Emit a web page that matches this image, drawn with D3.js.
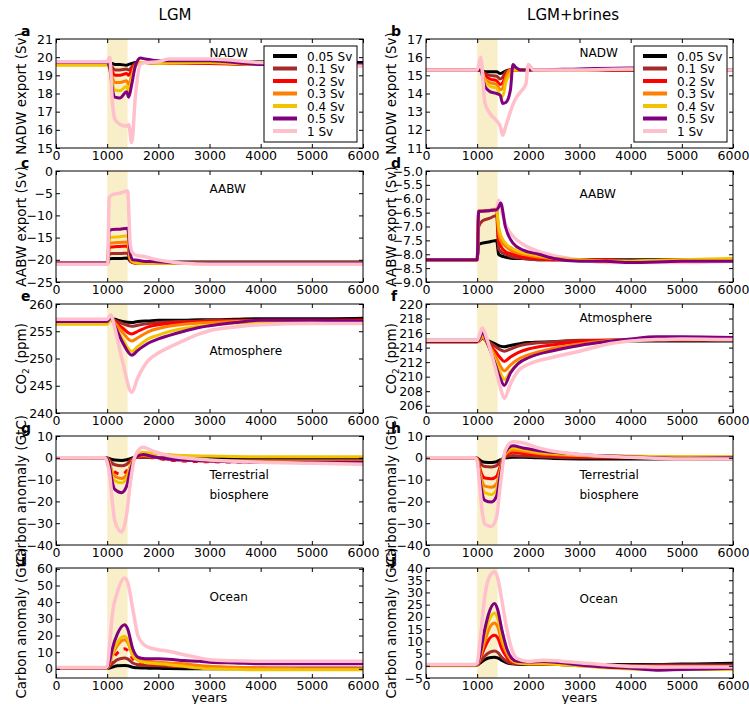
<!DOCTYPE html>
<html>
<head>
<meta charset="utf-8">
<script src="https://cdn.jsdelivr.net/npm/d3@7"></script>
<style>
  body { margin: 0; background: #fff; }
  svg { font-family: "DejaVu Sans", sans-serif; }
</style>
</head>
<body>
<div id="chart"></div>
<script>
// runs (freshwater forcing) and their colours
const runs = ["0.05 Sv", "0.1 Sv", "0.2 Sv", "0.3 Sv", "0.4 Sv", "0.5 Sv", "1 Sv"];
const colors = ["#000000", "#a52a2a", "#ff0000", "#ff7f00", "#f2c300", "#800080", "#ffc0cb"];
const xTicks = [0, 1000, 2000, 3000, 4000, 5000, 6000];

// a: NADW export, LGM
const yearsNadwLGM = [0, 1000, 1050, 1100, 1150, 1250, 1380, 1420, 1480, 1550, 1650, 1750, 2000, 2200, 3000, 4000, 5000, 6000];
const nadwLGM = [
  [19.7, 19.7, 19.7, 19.65, 19.6, 19.6, 19.55, 19.6, 19.65, 19.7, 19.7, 19.7, 19.7, 19.7, 19.7, 19.75, 19.7, 19.7],
  [19.65, 19.65, 19.6, 19.45, 19.3, 19.3, 19.35, 19.3, 19.45, 19.65, 19.7, 19.7, 19.65, 19.65, 19.65, 19.6, 19.6, 19.6],
  [19.65, 19.65, 19.5, 19.2, 19.0, 19.0, 19.1, 19.0, 19.3, 19.6, 19.7, 19.7, 19.65, 19.65, 19.65, 19.6, 19.6, 19.6],
  [19.6, 19.6, 19.45, 18.9, 18.6, 18.6, 18.7, 18.5, 19.0, 19.55, 19.7, 19.7, 19.65, 19.65, 19.7, 19.6, 19.6, 19.6],
  [19.55, 19.55, 19.35, 18.6, 18.2, 18.15, 18.4, 18.1, 18.8, 19.5, 19.7, 19.7, 19.65, 19.7, 19.7, 19.6, 19.6, 19.6],
  [19.7, 19.7, 19.4, 18.3, 17.8, 17.75, 18.1, 17.8, 18.5, 19.5, 19.95, 19.9, 19.8, 19.8, 19.8, 19.6, 19.6, 19.6],
  [19.75, 19.75, 20.0, 17.6, 16.6, 16.3, 16.2, 16.3, 15.3, 17.8, 19.6, 19.7, 19.75, 19.9, 19.9, 19.7, 19.6, 19.5]
];
const ticksNadwLGM = [15, 16, 17, 18, 19, 20, 21];

// b: NADW export, LGM+brines
const yearsNadwBrines = [0, 1000, 1070, 1150, 1250, 1380, 1450, 1500, 1560, 1650, 1700, 1750, 1850, 1950, 2000, 2100, 3000, 4000, 5000, 6000];
const nadwBrines = [
  [15.3, 15.3, 15.3, 15.2, 15.2, 15.2, 15.1, 15.15, 15.25, 15.3, 15.3, 15.3, 15.3, 15.3, 15.3, 15.3, 15.3, 15.3, 15.3, 15.3],
  [15.3, 15.3, 15.3, 15.1, 15.0, 14.95, 14.8, 14.9, 15.2, 15.3, 15.3, 15.3, 15.3, 15.3, 15.3, 15.3, 15.3, 15.3, 15.3, 15.3],
  [15.3, 15.3, 15.3, 15.0, 14.8, 14.7, 14.5, 14.6, 15.0, 15.3, 15.3, 15.3, 15.3, 15.3, 15.3, 15.3, 15.3, 15.3, 15.3, 15.3],
  [15.3, 15.3, 15.3, 14.8, 14.6, 14.5, 14.2, 14.3, 14.9, 15.3, 15.3, 15.3, 15.3, 15.3, 15.3, 15.3, 15.3, 15.35, 15.3, 15.3],
  [15.3, 15.3, 15.3, 14.7, 14.4, 14.3, 13.9, 13.85, 14.6, 15.1, 15.3, 15.3, 15.3, 15.3, 15.3, 15.3, 15.3, 15.35, 15.3, 15.3],
  [15.3, 15.3, 15.25, 14.4, 14.1, 14.0, 13.9, 13.45, 13.5, 14.2, 15.6, 15.45, 15.3, 15.3, 15.3, 15.3, 15.35, 15.4, 15.3, 15.3],
  [15.3, 15.3, 16.0, 13.5, 12.9, 12.5, 12.2, 11.7, 12.2, 13.0, 13.4, 13.7, 14.1, 14.5, 15.6, 15.3, 15.3, 15.35, 15.3, 15.3]
];
const ticksNadwBrines = [11, 12, 13, 14, 15, 16, 17];

// c: AABW export, LGM
const yearsAabwLGM = [0, 1010, 1040, 1100, 1250, 1400, 1450, 1500, 1600, 1700, 1900, 2200, 2500, 3000, 6000];
const aabwLGM = [
  [-20.8, -20.8, -19.8, -19.7, -19.7, -19.6, -20.3, -20.6, -20.7, -20.7, -20.6, -20.5, -20.5, -20.5, -20.5],
  [-20.8, -20.8, -18.7, -18.6, -18.6, -18.5, -20.2, -20.6, -20.7, -20.7, -20.7, -20.7, -20.7, -20.7, -20.7],
  [-20.8, -20.8, -17.2, -17.1, -17.0, -16.9, -20.0, -20.6, -20.8, -20.8, -20.8, -20.8, -20.8, -20.8, -20.8],
  [-20.9, -20.9, -16.3, -16.2, -16.1, -16.0, -19.8, -20.5, -20.8, -20.8, -20.8, -20.8, -20.8, -20.8, -20.8],
  [-20.9, -20.9, -15.0, -14.9, -14.8, -14.6, -19.6, -20.4, -20.7, -20.8, -20.8, -20.8, -20.8, -20.8, -20.8],
  [-20.8, -20.8, -13.3, -13.2, -13.1, -12.9, -18.5, -20.0, -20.1, -20.3, -20.4, -20.6, -20.7, -20.8, -20.8],
  [-21.0, -21.0, -6.0, -5.3, -5.0, -4.5, -16.5, -18.5, -19.1, -19.2, -19.8, -20.4, -20.8, -21.0, -21.0]
];
const ticksAabwLGM = [-25, -20, -15, -10, -5, 0];

// d: AABW export, LGM+brines
const yearsAabwBrines = [0, 1000, 1030, 1100, 1250, 1380, 1420, 1460, 1550, 1700, 1900, 2200, 2500, 3000, 3500, 4000, 5000, 6000];
const aabwBrines = [
  [-8.2, -8.2, -7.65, -7.6, -7.55, -7.5, -8.0, -8.05, -8.1, -8.15, -8.15, -8.2, -8.2, -8.2, -8.2, -8.2, -8.2, -8.2],
  [-8.2, -8.2, -7.0, -6.8, -6.7, -6.6, -7.8, -7.9, -8.0, -8.1, -8.15, -8.2, -8.2, -8.2, -8.2, -8.25, -8.2, -8.2],
  [-8.2, -8.2, -6.45, -6.45, -6.42, -6.4, -7.5, -7.7, -7.9, -8.0, -8.1, -8.15, -8.2, -8.2, -8.2, -8.25, -8.2, -8.2],
  [-8.2, -8.2, -6.45, -6.45, -6.42, -6.4, -7.2, -7.5, -7.7, -7.9, -8.0, -8.1, -8.15, -8.2, -8.25, -8.25, -8.2, -8.2],
  [-8.2, -8.2, -6.45, -6.45, -6.42, -6.4, -7.0, -7.3, -7.6, -7.8, -7.95, -8.05, -8.15, -8.2, -8.25, -8.25, -8.2, -8.15],
  [-8.2, -8.2, -6.45, -6.45, -6.42, -6.4, -6.3, -6.15, -7.0, -7.6, -7.85, -8.0, -8.15, -8.25, -8.25, -8.3, -8.25, -8.25],
  [-8.2, -8.2, -6.45, -6.45, -6.4, -6.35, -6.05, -6.3, -6.9, -7.35, -7.65, -7.9, -8.05, -8.2, -8.3, -8.3, -8.3, -8.25]
];
const ticksAabwBrines = [-9, -8.5, -8, -7.5, -7, -6.5, -6, -5.5, -5];

// e: atmospheric CO2, LGM
const yearsCo2LGM = [0, 1000, 1070, 1150, 1300, 1480, 1600, 1800, 2000, 2200, 2500, 2800, 3000, 3500, 4000, 5000, 6000];
const co2LGM = [
  [257.0, 257.0, 257.4, 257.2, 256.8, 256.6, 256.8, 256.9, 257.0, 257.0, 257.0, 257.1, 257.1, 257.2, 257.3, 257.3, 257.4],
  [257.0, 257.0, 257.4, 257.0, 256.4, 255.9, 256.1, 256.4, 256.6, 256.7, 256.8, 256.9, 257.0, 257.0, 257.0, 257.0, 257.0],
  [257.0, 257.0, 257.4, 256.8, 255.6, 254.5, 255.0, 255.8, 256.2, 256.4, 256.6, 256.7, 256.8, 256.9, 257.0, 257.0, 257.0],
  [256.8, 256.8, 257.3, 256.5, 254.8, 253.2, 253.8, 254.9, 255.5, 255.9, 256.3, 256.5, 256.6, 256.8, 256.9, 256.9, 256.8],
  [256.3, 256.3, 257.2, 256.0, 253.5, 251.3, 252.2, 253.6, 254.3, 254.9, 255.5, 255.9, 256.1, 256.5, 256.7, 256.7, 256.6],
  [256.8, 256.8, 257.5, 256.0, 253.0, 250.6, 251.5, 252.8, 253.6, 254.2, 255.0, 255.7, 256.0, 256.6, 257.0, 257.0, 256.8],
  [257.2, 257.2, 258.0, 255.5, 249.5, 243.8, 246.5, 249.6, 251.0, 252.0, 253.3, 254.5, 255.1, 255.8, 256.2, 256.4, 256.4]
];
const ticksCo2LGM = [240, 245, 250, 255, 260];

// f: atmospheric CO2, LGM+brines
const yearsCo2Brines = [0, 1000, 1050, 1100, 1200, 1350, 1450, 1530, 1650, 1800, 2000, 2500, 3000, 3500, 4000, 4500, 5000, 6000];
const co2Brines = [
  [215.0, 215.0, 215.1, 215.3, 215.0, 214.5, 214.2, 214.1, 214.3, 214.5, 214.7, 214.8, 214.9, 214.9, 214.9, 214.9, 214.9, 214.9],
  [214.8, 214.8, 215.0, 215.3, 214.9, 214.2, 213.7, 213.5, 213.8, 214.2, 214.5, 214.8, 215.0, 215.0, 215.0, 215.0, 215.0, 215.0],
  [214.8, 214.8, 215.0, 215.4, 214.7, 213.5, 212.6, 212.1, 212.7, 213.3, 213.8, 214.4, 214.8, 215.0, 215.1, 215.1, 215.1, 215.1],
  [214.8, 214.8, 215.1, 215.5, 214.6, 212.9, 211.5, 210.8, 211.6, 212.4, 213.0, 213.9, 214.5, 214.9, 215.1, 215.2, 215.2, 215.2],
  [214.7, 214.7, 215.1, 215.7, 214.5, 212.3, 210.6, 209.6, 210.7, 211.8, 212.6, 213.6, 214.3, 214.8, 215.1, 215.2, 215.2, 215.2],
  [214.8, 214.8, 215.3, 216.1, 214.6, 211.8, 209.8, 208.8, 210.5, 211.8, 212.6, 213.6, 214.3, 214.8, 215.2, 215.5, 215.5, 215.4],
  [215.0, 215.0, 215.8, 216.7, 215.0, 211.3, 208.6, 207.0, 209.0, 210.8, 211.7, 212.7, 213.5, 214.4, 214.9, 215.1, 215.2, 215.1]
];
const ticksCo2Brines = [206, 208, 210, 212, 214, 216, 218, 220];

// g, h: terrestrial biosphere carbon anomaly
const yearsLand = [0, 950, 1000, 1050, 1100, 1150, 1280, 1380, 1450, 1550, 1700, 1900, 2200, 2500, 3000, 4000, 5000, 6000];
const landLGM = [
  [0, 0, -0.1, -0.4, -0.8, -1.0, -1.2, -0.9, -0.4, 0.2, 0.3, 0.2, 0, -0.2, -0.3, -0.3, -0.3, -0.3],
  [0, 0, -0.2, -1.2, -2.5, -3.2, -3.7, -3.0, -1.3, 0.3, 0.5, 0.2, -0.5, -1.0, -1.3, -1.5, -1.5, -1.5],
  [0, 0, -0.3, -2.0, -5.0, -6.5, -7.5, -6.0, -2.8, 0, 0.5, 0, -1.0, -1.5, -1.8, -2.0, -2.0, -2.0],
  [0, 0, -0.3, -2.5, -6.5, -8.5, -9.5, -8.0, -3.8, 0, 1.0, 0.5, -0.5, -1.0, -1.5, -1.5, -1.5, -1.5],
  [0, 0, -0.4, -3.0, -8.5, -10.5, -11.5, -9.5, -4.5, 0.5, 2.5, 2.0, 1.5, 1.0, 0.8, 0.5, 0.5, 0.5],
  [0, 0, -0.5, -4.0, -11.0, -14.5, -16.0, -13.0, -6.0, 0, 1.5, 0.5, -0.5, -1.0, -1.5, -2.0, -2.0, -2.0],
  [0, 0, -2.0, -8.0, -20.0, -29.0, -34.0, -26.0, -12.0, 1.0, 4.8, 3.0, 1.0, 0, -1.0, -2.0, -2.5, -3.0]
];
const landBrines = [
  [0, 0, -0.2, -1.0, -1.8, -2.0, -2.1, -1.8, -1.0, 0, 0.2, 0.2, 0, -0.3, -0.5, -0.5, -0.5, -0.5],
  [0, 0, -0.3, -2.0, -3.5, -4.0, -4.2, -3.6, -1.8, 0.5, 1.0, 0.8, 0.5, 0.3, 0, 0, 0, 0],
  [0, 0, -0.5, -4.5, -8.0, -9.3, -9.6, -8.5, -4.0, 1.0, 2.5, 2.0, 1.5, 1.0, 0.5, 0.3, 0.2, 0.2],
  [0, 0, -0.6, -6.0, -11.0, -13.0, -13.5, -12.0, -5.5, 1.5, 3.5, 3.0, 2.0, 1.5, 1.0, 0.5, 0.3, 0.3],
  [0, 0, -0.8, -7.5, -13.5, -16.0, -16.8, -14.5, -6.5, 2.0, 4.5, 3.8, 2.5, 2.0, 1.2, 0.8, 0.5, 0.5],
  [0, 0, -1.0, -9.0, -16.5, -19.5, -20.3, -17.5, -8.0, 2.5, 5.5, 4.5, 3.2, 2.5, 1.5, 0.5, -0.2, 0],
  [0, 0, -1.5, -13.0, -25.0, -30.5, -31.5, -27.0, -13.0, 3.5, 7.4, 6.8, 4.5, 3.0, 1.5, 0.3, -0.5, -0.5]
];
const ticksLand = [-40, -30, -20, -10, 0, 10];

// i: ocean carbon anomaly, LGM
const yearsOceanLGM = [0, 950, 1000, 1050, 1100, 1200, 1340, 1400, 1500, 1600, 1700, 1800, 2000, 2200, 2500, 2800, 3000, 3500, 4000, 5000, 6000];
const oceanLGM = [
  [0.3, 0.3, 0.3, 0.5, 1.0, 1.8, 2.0, 1.8, 1.0, 0.6, 0.5, 0.4, 0.3, 0.2, 0.1, 0, 0, 0, 0, 0, 0],
  [0.3, 0.3, 0.4, 1.5, 3, 5.5, 6.5, 6, 3.5, 2.5, 2, 2, 1.8, 1.5, 1.2, 1, 0.8, 0.5, 0.5, 0.5, 0.5],
  [0.3, 0.3, 0.4, 2.5, 5.5, 9.5, 12, 11, 6, 4, 3.5, 3, 2.5, 2, 1.5, 1, 0.8, 0.5, 0.3, 0.2, 0.2],
  [0.3, 0.3, 0.5, 3.5, 8, 14, 17.5, 16, 8, 5.5, 4.8, 4.5, 4, 3.5, 3, 2, 1.5, 1, 0.5, 0, 0],
  [0.3, 0.3, 0.5, 4, 9, 16, 19.5, 17.5, 8, 5, 4, 3.5, 3, 2.5, 1.5, 0.5, 0, -0.3, -0.5, -0.5, -0.5],
  [0.5, 0.5, 0.7, 5, 12, 21, 26.5, 24, 12, 7, 6.2, 6, 6, 5.8, 5, 4.5, 4, 3.5, 3, 3, 3],
  [0.8, 0.8, 1.5, 15, 32, 46, 54.5, 52, 36, 20, 15, 13, 11.5, 10.5, 8.5, 6.5, 5.5, 4.8, 4.5, 4.5, 4.5]
];
const ticksOceanLGM = [0, 10, 20, 30, 40, 50, 60];

// j: ocean carbon anomaly, LGM+brines
const yearsOceanBrines = [0, 950, 1000, 1050, 1150, 1220, 1340, 1400, 1480, 1580, 1680, 1780, 2000, 2300, 2600, 3000, 3500, 4000, 4500, 5000, 5500, 6000];
const oceanBrines = [
  [0.3, 0.3, 0.3, 1, 2.5, 3.2, 3.5, 3.2, 2.2, 1.2, 0.8, 0.6, 0.5, 0.5, 0.5, 0.5, 0.5, 0.5, 0.5, 0.7, 0.8, 1.0],
  [0.3, 0.3, 0.4, 1.5, 4, 5.2, 6, 5.5, 3.5, 1.8, 1, 0.8, 0.6, 0.6, 0.5, 0.3, 0.2, 0.2, 0.3, 0.3, 0.3, 0.3],
  [0.3, 0.3, 0.5, 2.5, 7.5, 10.5, 12.5, 11.5, 7, 3.5, 1.5, 1, 0.8, 0.8, 0.5, 0.2, -0.3, -0.5, -0.5, -0.5, -0.5, -0.5],
  [0.3, 0.3, 0.5, 3, 10, 14.5, 17.5, 16, 10, 5, 2, 1.2, 0.8, 0.8, 0.5, 0, -0.5, -1.0, -1.0, -1.0, -0.8, -0.8],
  [0, 0, 0.3, 3.5, 12.5, 18, 21.5, 19.5, 12, 6, 2.5, 1.2, 0.8, 0.8, 0.5, 0, -0.8, -1.3, -1.5, -1.5, -1.5, -1.5],
  [0.3, 0.3, 0.5, 4, 15, 21, 25.5, 23, 15, 7, 3, 1.8, 1.5, 1.8, 1.3, 0.3, -0.5, -1.0, -1.8, -1.5, -1.3, -1.0],
  [0.5, 0.5, 1.0, 9, 28.5, 35.5, 38.5, 36, 27, 15, 6.5, 3, 1.8, 2.3, 2, 1.2, 0.4, -0.3, -0.5, -0.5, -0.5, -0.5]
];
const ticksOceanBrines = [-5, 0, 5, 10, 15, 20, 25, 30, 35, 40];

const panels = [
  { id: "a", col: 0, row: 0, years: yearsNadwLGM, values: nadwLGM, domain: [15, 21], ticks: ticksNadwLGM, fmt: "d", label: "NADW export (Sv)", note: ["NADW"], noteDy: 18, legend: true },
  { id: "b", col: 1, row: 0, years: yearsNadwBrines, values: nadwBrines, domain: [11, 17], ticks: ticksNadwBrines, fmt: "d", label: "NADW export (Sv)", note: ["NADW"], noteDy: 18, legend: true },
  { id: "c", col: 0, row: 1, years: yearsAabwLGM, values: aabwLGM, domain: [-25, 0], ticks: ticksAabwLGM, fmt: "d", label: "AABW export (Sv)", note: ["AABW"], noteDy: 22 },
  { id: "d", col: 1, row: 1, years: yearsAabwBrines, values: aabwBrines, domain: [-9, -5], ticks: ticksAabwBrines, fmt: ".1f", label: "AABW export (Sv)", note: ["AABW"], noteDy: 27, pinkBelow: true },
  { id: "e", col: 0, row: 2, years: yearsCo2LGM, values: co2LGM, domain: [240, 260], ticks: ticksCo2LGM, fmt: "d", label: "co2", note: ["Atmosphere"], noteDy: 51 },
  { id: "f", col: 1, row: 2, years: yearsCo2Brines, values: co2Brines, domain: [205, 220], ticks: ticksCo2Brines, fmt: "d", label: "co2", note: ["Atmosphere"], noteDy: 18 },
  { id: "g", col: 0, row: 3, years: yearsLand, values: landLGM, domain: [-40, 10], ticks: ticksLand, fmt: "d", label: "Carbon anomaly (GtC)", note: ["Terrestrial", "biosphere"], noteDy: 43, dashRed: true },
  { id: "h", col: 1, row: 3, years: yearsLand, values: landBrines, domain: [-40, 10], ticks: ticksLand, fmt: "d", label: "Carbon anomaly (GtC)", note: ["Terrestrial", "biosphere"], noteDy: 43 },
  { id: "i", col: 0, row: 4, years: yearsOceanLGM, values: oceanLGM, domain: [-5.5, 60.5], ticks: ticksOceanLGM, fmt: "d", label: "Carbon anomaly (GtC)", note: ["Ocean"], noteDy: 33, dashRed: true },
  { id: "j", col: 1, row: 4, years: yearsOceanBrines, values: oceanBrines, domain: [-5, 40], ticks: ticksOceanBrines, fmt: "d", label: "Carbon anomaly (GtC)", note: ["Ocean"], noteDy: 35 }
];

const colX = [[56, 363], [426, 733]];
const rowY = [[39, 148], [171, 282], [304, 413], [436, 545], [568, 678]];

var svg = d3.select("#chart").append("svg").attr("width", 749).attr("height", 704);

// column titles
svg.append("text").attr("x", 175).attr("y", 20).attr("text-anchor", "middle").attr("font-size", 15).text("LGM");
svg.append("text").attr("x", 573).attr("y", 20).attr("text-anchor", "middle").attr("font-size", 15).text("LGM+brines");

panels.forEach(function (p) {
  var x0 = colX[p.col][0], x1 = colX[p.col][1];
  var y0 = rowY[p.row][0], y1 = rowY[p.row][1];
  var x = d3.scaleLinear().domain([0, 6000]).range([x0, x1]);
  var y = d3.scaleLinear().domain(p.domain).range([y1, y0]);
  var g = svg.append("g");

  g.append("clipPath").attr("id", "clip-" + p.id)
    .append("rect").attr("x", x0).attr("y", y0).attr("width", x1 - x0).attr("height", y1 - y0);

  // freshwater forcing period
  g.append("rect")
    .attr("x", x(1000)).attr("y", y0)
    .attr("width", x(1400) - x(1000)).attr("height", y1 - y0)
    .attr("fill", "#f8efc8");

  var line = d3.line().x((d) => x(d[0])).y((d) => y(d[1])).curve(d3.curveMonotoneX);
  var order = p.pinkBelow ? [6, 0, 1, 2, 3, 4, 5] : [0, 1, 2, 3, 4, 5, 6];
  var lines = g.append("g").attr("clip-path", "url(#clip-" + p.id + ")");
  order.forEach(function (i) {
    lines.append("path")
      .datum(p.years.map((t, k) => [t, p.values[i][k]]))
      .attr("d", line)
      .attr("fill", "none")
      .attr("stroke", colors[i])
      .attr("stroke-width", i === 6 ? 3.5 : 3)
      .attr("stroke-linejoin", "round")
      .attr("stroke-dasharray", p.dashRed && i === 2 ? "5,6" : null);
  });

  // axes, ticks inward on all four sides
  var fmt = d3.format(p.fmt);
  function style(sel) {
    sel.attr("font-size", 12.5).attr("font-family", "DejaVu Sans");
    sel.select(".domain").remove();
    sel.selectAll(".tick line").attr("stroke", "#000");
    sel.selectAll(".tick text").attr("fill", "#000");
  }
  g.append("g").attr("transform", "translate(0," + y1 + ")")
    .call(d3.axisBottom(x).tickValues(xTicks).tickSizeInner(-4).tickSizeOuter(0).tickPadding(3).tickFormat(d3.format("d")))
    .call(style);
  g.append("g").attr("transform", "translate(0," + y0 + ")")
    .call(d3.axisTop(x).tickValues(xTicks).tickSizeInner(-4).tickSizeOuter(0).tickFormat(""))
    .call(style);
  g.append("g").attr("transform", "translate(" + x0 + ",0)")
    .call(d3.axisLeft(y).tickValues(p.ticks).tickSizeInner(-4).tickSizeOuter(0).tickPadding(3).tickFormat(fmt))
    .call(style);
  g.append("g").attr("transform", "translate(" + x1 + ",0)")
    .call(d3.axisRight(y).tickValues(p.ticks).tickSizeInner(-4).tickSizeOuter(0).tickFormat(""))
    .call(style);

  g.append("rect")
    .attr("x", x0).attr("y", y0).attr("width", x1 - x0).attr("height", y1 - y0)
    .attr("fill", "none").attr("stroke", "#000").attr("stroke-width", 1);

  // y label
  var lx = x0 - 30, ly = (y0 + y1) / 2;
  var lab = g.append("text")
    .attr("transform", "translate(" + lx + "," + ly + ") rotate(-90)")
    .attr("text-anchor", "middle")
    .attr("font-size", 13.5);
  if (p.label === "co2") {
    lab.append("tspan").text("CO");
    lab.append("tspan").attr("font-size", 9).attr("dy", 3).text("2");
    lab.append("tspan").attr("dy", -3).text(" (ppm)");
  } else {
    lab.text(p.label);
  }

  // panel letter
  g.append("text")
    .attr("x", x0 - 35).attr("y", y0 - 3)
    .attr("font-size", 14).attr("font-weight", "bold")
    .text(p.id);

  // annotation
  p.note.forEach(function (t, k) {
    g.append("text")
      .attr("x", x(3000)).attr("y", y0 + p.noteDy + k * 20)
      .attr("font-size", 12)
      .text(t);
  });

  if (p.legend) {
    var lg = g.append("g");
    lg.append("rect")
      .attr("x", x1 - 99).attr("y", y0 + 7).attr("width", 93).attr("height", 96)
      .attr("fill", "#fff").attr("stroke", "#000").attr("stroke-width", 1);
    runs.forEach(function (r, i) {
      var ry = y0 + 17 + i * 12.5;
      lg.append("line")
        .attr("x1", x1 - 90).attr("x2", x1 - 66).attr("y1", ry).attr("y2", ry)
        .attr("stroke", colors[i]).attr("stroke-width", 4);
      lg.append("text")
        .attr("x", x1 - 56).attr("y", ry + 4.5)
        .attr("font-size", 12)
        .text(r);
    });
  }

  if (p.row === 4) {
    g.append("text")
      .attr("x", (x0 + x1) / 2).attr("y", 702)
      .attr("text-anchor", "middle").attr("font-size", 13)
      .text("years");
  }
});
</script>
</body>
</html>
